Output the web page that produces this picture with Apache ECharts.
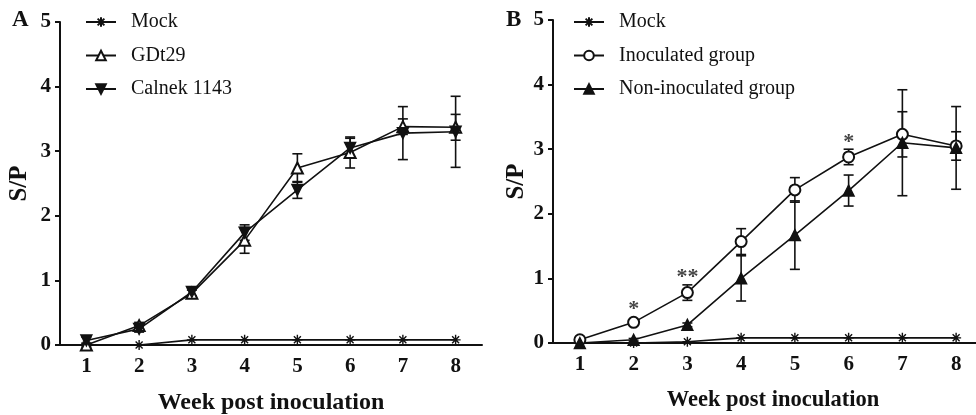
<!DOCTYPE html>
<html><head><meta charset="utf-8">
<script src="https://cdn.jsdelivr.net/npm/echarts@6/dist/echarts.min.js"></script>
<style>html,body{margin:0;padding:0;background:#fff}#c{width:976px;height:415px}</style>
</head><body><div id="c"></div>
<script>
const weeks = ['1','2','3','4','5','6','7','8'];
const yTicks = [0,1,2,3,4,5];
// Panel A
const aMock = [0,0,0.08,0.08,0.08,0.08,0.08,0.08];
const aGDt29 = [0.0,0.3,0.8,1.62,2.74,2.98,3.38,3.37];
const aGDt29Err = [0.03,0.05,0.05,0.2,0.22,0.24,0.12,0.2];
const aCalnek = [0.07,0.25,0.82,1.74,2.4,3.05,3.28,3.3];
const aCalnekErr = [0.05,0.05,0.06,0.12,0.13,0.15,0.41,0.55];
// Panel B
const bMock = [0,0,0.02,0.08,0.08,0.08,0.08,0.08];
const bInoc = [0.05,0.32,0.78,1.57,2.37,2.88,3.23,3.05];
const bInocErr = [0.02,0.03,0.12,0.2,0.19,0.12,0.35,0.22];
const bNon = [0.0,0.05,0.28,1.0,1.67,2.36,3.1,3.02];
const bNonErr = [0.0,0.02,0.03,0.35,0.53,0.24,0.82,0.64];
const sigWeeks = ['2','3','6'];
const sigLabels = ['*','**','*'];
const sigY = [0.52,1.02,3.1];

const FONT = 'Liberation Serif';
const BLACK = '#111';
const asterisk = 'path://M0,5L10,5M5,0L5,10M1.5,1.5L8.5,8.5M8.5,1.5L1.5,8.5';

function errSeries(idx, vals, errs){
  return {
    type:'custom', xAxisIndex:idx, yAxisIndex:idx, z:1, silent:true,
    encode:{x:0,y:[1,2]},
    data: vals.map((v,i)=>[i, v-errs[i], v+errs[i]]),
    renderItem:(params, api)=>{
      const x = api.value(0);
      const lo = api.coord([x, api.value(1)]);
      const hi = api.coord([x, api.value(2)]);
      const w = 5;
      const st = {stroke:BLACK, lineWidth:1.6};
      return {type:'group', children:[
        {type:'line', shape:{x1:lo[0],y1:lo[1],x2:hi[0],y2:hi[1]}, style:st},
        {type:'line', shape:{x1:hi[0]-w,y1:hi[1],x2:hi[0]+w,y2:hi[1]}, style:st},
        {type:'line', shape:{x1:lo[0]-w,y1:lo[1],x2:lo[0]+w,y2:lo[1]}, style:st}
      ]};
    }
  };
}
function lineSeries(idx, name, vals, symbol, size, extra){
  return Object.assign({
    type:'line', name, xAxisIndex:idx, yAxisIndex:idx, data:vals, z:3,
    symbol, symbolSize:size, showAllSymbol:true,
    lineStyle:{color:BLACK, width:1.6},
    itemStyle:{color:BLACK, borderColor:BLACK, borderWidth:1.4},
    emphasis:{disabled:true}
  }, extra||{});
}
function xAxis(idx, nameSize, namePad){
  return {type:'category', gridIndex:idx, data:weeks, boundaryGap:true,
    axisLine:{lineStyle:{color:BLACK,width:2}},
    axisTick:{alignWithLabel:true, length:5, lineStyle:{color:BLACK,width:2}},
    axisLabel:{fontFamily:FONT, fontWeight:'bold', fontSize:21, color:BLACK, margin:11},
    name:'Week post inoculation', nameLocation:'middle', nameGap:46,
    nameTextStyle:{fontFamily:FONT, fontWeight:'bold', fontSize:nameSize, color:BLACK, padding:namePad}};
}
function yAxis(idx, gap){
  return {type:'value', gridIndex:idx, min:0, max:5, interval:1,
    splitLine:{show:false},
    axisLine:{show:true, lineStyle:{color:BLACK,width:2}},
    axisTick:{show:true, length:5, lineStyle:{color:BLACK,width:2}},
    axisLabel:{fontFamily:FONT, fontWeight:'bold', fontSize:21, color:BLACK, margin:9},
    name:'S/P', nameLocation:'middle', nameGap:gap, nameRotate:90,
    nameTextStyle:{fontFamily:FONT, fontWeight:'bold', fontSize:25, color:BLACK}};
}
const legendBase = {orient:'vertical', padding:0, itemWidth:30, itemHeight:12, itemGap:13.5,
  textStyle:{fontFamily:FONT, fontSize:20, color:BLACK, padding:[0,0,0,10]}, selectedMode:false};

const chart = echarts.init(document.getElementById('c'), null, {renderer:'canvas'});
chart.setOption({
  animation:false,
  backgroundColor:'#fff',
  grid:[{left:60, top:22, width:422, bottom:70, outerBoundsMode:'none', containLabel:false},
        {left:553, top:20, width:430, bottom:72, outerBoundsMode:'none', containLabel:false}],
  xAxis:[xAxis(0, 24, [0,0,0,0]), xAxis(1, 22.5, [0,0,0,10])],
  yAxis:[yAxis(0, 28), yAxis(1, 24)],
  legend:[
    Object.assign({left:85, top:12, data:['Mock','GDt29','Calnek 1143']}, legendBase),
    Object.assign({left:573, top:12, data:['Mock','Inoculated group','Non-inoculated group']}, legendBase)
  ],
  graphic:[
    {type:'text', left:12, top:9, style:{text:'A', font:'bold 23px "Liberation Serif"', fill:BLACK}},
    {type:'text', left:506, top:9, style:{text:'B', font:'bold 23px "Liberation Serif"', fill:BLACK}}
  ],
  series:[
    errSeries(0, aGDt29, aGDt29Err),
    errSeries(0, aCalnek, aCalnekErr),
    lineSeries(0, 'Mock', aMock, asterisk, 10),
    lineSeries(0, 'GDt29', aGDt29, 'emptyTriangle', 11),
    lineSeries(0, 'Calnek 1143', aCalnek, 'triangle', 11, {symbolRotate:180}),
    errSeries(1, bInoc, bInocErr),
    errSeries(1, bNon, bNonErr),
    lineSeries(1, 'Mock', bMock, asterisk, 10),
    lineSeries(1, 'Inoculated group', bInoc, 'emptyCircle', 11),
    lineSeries(1, 'Non-inoculated group', bNon, 'triangle', 11),
    {type:'scatter', xAxisIndex:1, yAxisIndex:1, symbolSize:0, silent:true,
     data: sigWeeks.map((w,i)=>({value:[w, sigY[i]], label:{formatter:sigLabels[i]}})),
     label:{show:true, position:'inside', fontFamily:FONT, fontWeight:'bold', fontSize:22, color:BLACK}}
  ]
});
</script></body></html>
